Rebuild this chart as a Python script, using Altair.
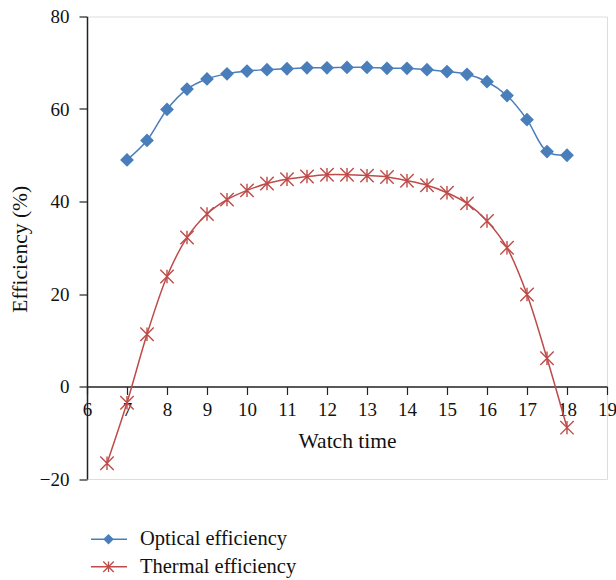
import altair as alt
import pandas as pd

# Hourly efficiency readings
optical_time = [7, 7.5, 8, 8.5, 9, 9.5, 10, 10.5, 11, 11.5, 12, 12.5, 13, 13.5,
                14, 14.5, 15, 15.5, 16, 16.5, 17, 17.5, 18]
optical_eff = [49.0, 53.2, 59.9, 64.3, 66.5, 67.6, 68.2, 68.5, 68.7, 68.9, 68.9, 69.0,
               69.0, 68.8, 68.8, 68.5, 68.1, 67.5, 65.9, 62.9, 57.7, 50.8, 50.0]

thermal_time = [6.5, 7, 7.5, 8, 8.5, 9, 9.5, 10, 10.5, 11, 11.5, 12, 12.5, 13, 13.5,
                14, 14.5, 15, 15.5, 16, 16.5, 17, 17.5, 18]
thermal_eff = [-16.6, -3.5, 11.3, 23.8, 32.2, 37.3, 40.4, 42.4, 43.9, 44.8, 45.4, 45.8,
               45.8, 45.6, 45.3, 44.5, 43.5, 41.9, 39.6, 35.8, 30.0, 19.9, 6.1, -8.9]

series_names = ["Optical efficiency", "Thermal efficiency"]
x_ticks = list(range(6, 20))
y_ticks = [-20, 0, 20, 40, 60, 80]

BLUE = "#4A7EBB"
RED = "#BE4B48"
FONT = "Liberation Serif"
STAR = "M-1,-1L1,1M-1,1L1,-1M0,-1L0,1"

W, H = 520, 462.5

opt_df = pd.DataFrame({"t": optical_time, "eff": optical_eff})
th_df = pd.DataFrame({"t": thermal_time, "eff": thermal_eff})

x_scale = alt.Scale(domain=[6, 19], nice=False, zero=False)
y_scale = alt.Scale(domain=[-20, 80], nice=False)

x_axis = alt.Axis(values=x_ticks, offset=-(H * 20 / 100), title="Watch time",
                  grid=False, tickSize=8, tickColor="#222", domainColor="#222",
                  domainWidth=1.5, tickWidth=1.2, labelFont=FONT, labelFontSize=19,
                  labelPadding=6, labelColor="#111", labelOverlap=False,
                  titleFont=FONT, titleFontSize=21.5, titleFontWeight="normal",
                  titleColor="#111", titlePadding=11, labelFlush=False)
y_axis = alt.Axis(values=y_ticks, title="Efficiency (%)", grid=False, tickSize=8,
                  tickColor="#222", domainColor="#222", domainWidth=1.5,
                  tickWidth=1.2, labelFont=FONT, labelFontSize=19, labelPadding=10,
                  labelColor="#111", labelOverlap=False, titleFont=FONT,
                  titleFontSize=21.5, titleFontWeight="normal", titleColor="#111",
                  titleX=-67, titleY=H / 2 + 1, titleAlign="center",
                  titleBaseline="middle", titleAngle=270)


def xy(df):
    return alt.Chart(df).encode(
        x=alt.X("t:Q", scale=x_scale, axis=x_axis),
        y=alt.Y("eff:Q", scale=y_scale, axis=y_axis),
    )


opt_line = xy(opt_df).mark_line(color=BLUE, strokeWidth=1.5, interpolate="catmull-rom")
opt_pts = xy(opt_df).mark_point(shape="diamond", filled=True, color=BLUE, size=190, opacity=1)
th_line = xy(th_df).mark_line(color=RED, strokeWidth=1.5, interpolate="catmull-rom")
th_pts = xy(th_df).mark_point(shape=STAR, filled=False, color=RED, size=180,
                              strokeWidth=1.4, opacity=1)

# Legend below the plot, drawn in pixel space
leg_rows = [522.8, 550.2]
leg_colors = [BLUE, RED]
leg_shapes = ["diamond", STAR]
legend_layers = []
for name, yy, col, shp in zip(series_names, leg_rows, leg_colors, leg_shapes):
    d = pd.DataFrame({"label": [name]})
    legend_layers.append(alt.Chart(d).mark_rule(color=col, strokeWidth=1.5).encode(
        x=alt.value(4), x2=alt.value(40), y=alt.value(yy)))
    legend_layers.append(alt.Chart(d).mark_point(
        shape=shp, filled=(shp == "diamond"), color=col, size=110, strokeWidth=1.3,
        opacity=1).encode(x=alt.value(21.5), y=alt.value(yy)))
    legend_layers.append(alt.Chart(d).mark_text(
        align="left", baseline="middle", font=FONT, fontSize=20.5, color="#111").encode(
        x=alt.value(53), y=alt.value(yy), text="label:N"))

chart = alt.layer(opt_line, opt_pts, th_line, th_pts, *legend_layers).properties(
    width=W, height=H,
    autosize=alt.AutoSizeParams(type="none"),
    padding={"left": 87, "top": 16.5, "right": 9, "bottom": 101},
).configure_view(stroke="#222", strokeWidth=1.5).configure(background="white")

chart.save("out.html", embed_options={"renderer": "svg", "actions": False})
